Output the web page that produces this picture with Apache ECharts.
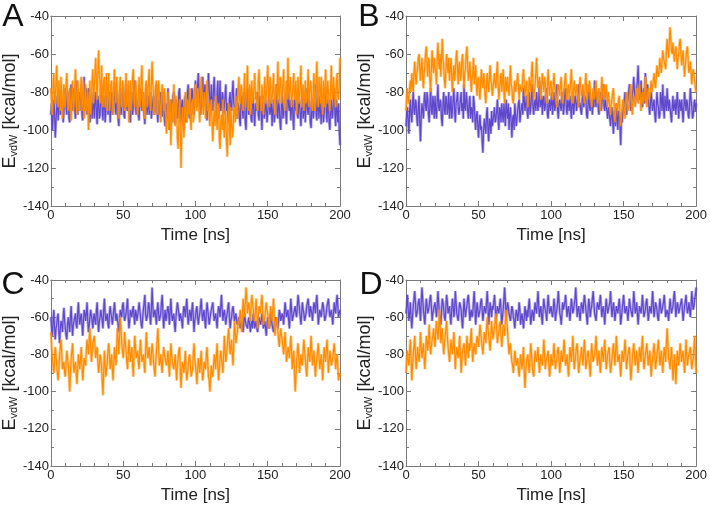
<!DOCTYPE html>
<html>
<head>
<meta charset="utf-8">
<script src="https://cdn.jsdelivr.net/npm/echarts@6/dist/echarts.min.js"></script>
<style>
html,body{margin:0;padding:0;background:#fff;}
#chart{width:710px;height:505px;}
</style>
</head>
<body>
<div id="chart"></div>
<script>
// Sample times in ns: whole-ns samples and half-ns samples
const time = Array.from({length: 201}, (_, i) => i);
const timeHalf = Array.from({length: 200}, (_, i) => i + 0.5);
const panelLabels = ['A', 'B', 'C', 'D'];
const xTicks = [0, 50, 100, 150, 200];
const yTicks = [-140, -120, -100, -80, -60, -40];

// ---------- Panel A ----------
const aPurple = [
-92,-100,-84,-104,-88,-95,-80,-93,-86,-90,
-78,-92,-84,-96,-76,-88,-82,-94,-74,-86,
-90,-80,-95,-72,-86,-92,-78,-96,-84,-88,
-94,-80,-97,-86,-92,-76,-95,-84,-90,-78,
-88,-96,-80,-90,-75,-92,-84,-98,-78,-88,
-82,-94,-76,-90,-86,-96,-80,-88,-74,-92,
-86,-95,-78,-90,-84,-97,-76,-88,-92,-80,
-94,-82,-90,-76,-96,-86,-80,-93,-84,-98,
-88,-78,-100,-84,-94,-80,-97,-86,-92,-78,
-96,-84,-100,-82,-90,-76,-94,-86,-80,-92,
-74,-88,-70,-84,-92,-72,-86,-78,-95,-70,
-84,-76,-90,-72,-86,-80,-94,-74,-88,-82,
-92,-76,-86,-96,-80,-90,-74,-88,-84,-94,
-88,-98,-82,-94,-86,-100,-78,-92,-88,-96,
-84,-98,-90,-80,-95,-86,-100,-82,-92,-88,
-96,-80,-90,-98,-84,-92,-76,-94,-88,-100,
-82,-92,-86,-97,-78,-90,-95,-84,-100,-88,
-80,-94,-86,-98,-82,-90,-96,-78,-92,-86,
-99,-84,-90,-76,-95,-88,-82,-97,-86,-92,
-80,-96,-88,-100,-84,-92,-78,-98,-90,-86,
-108];
const aPurpleHalf = [
-86,-94,-90,-96,-82,-88,-92,-84,-96,-82,
-88,-80,-94,-82,-90,-78,-90,-80,-92,-80,
-84,-92,-80,-90,-78,-84,-92,-88,-94,-80,
-84,-92,-82,-94,-80,-90,-82,-96,-82,-92,
-80,-86,-92,-82,-88,-80,-94,-84,-92,-80,
-92,-80,-88,-82,-94,-84,-92,-78,-86,-84,
-92,-82,-88,-80,-92,-84,-92,-82,-86,-94,
-84,-92,-80,-90,-84,-92,-88,-80,-94,-86,
-94,-90,-86,-96,-82,-92,-84,-94,-80,-90,
-86,-94,-84,-96,-80,-92,-84,-78,-90,-82,
-82,-76,-80,-92,-78,-82,-76,-90,-80,-78,
-90,-86,-78,-84,-92,-74,-84,-90,-80,-92,
-82,-90,-94,-84,-88,-80,-86,-92,-78,-86,
-94,-86,-90,-80,-96,-84,-90,-84,-94,-82,
-92,-86,-84,-92,-82,-92,-86,-94,-84,-96,
-86,-92,-84,-90,-96,-80,-92,-84,-96,-86,
-94,-84,-92,-82,-88,-84,-88,-94,-84,-90,
-92,-84,-92,-86,-94,-84,-86,-90,-82,-96,
-88,-94,-82,-92,-82,-94,-90,-84,-96,-82,
-90,-84,-96,-88,-94,-84,-92,-84,-96,-100];
const aOrange = [
-78,-92,-70,-86,-66,-88,-80,-72,-94,-76,
-84,-70,-90,-78,-95,-74,-86,-68,-92,-80,
-88,-72,-82,-94,-76,-86,-100,-74,-84,-68,
-78,-62,-84,-58,-76,-66,-88,-72,-80,-90,
-70,-84,-74,-92,-68,-86,-80,-94,-72,-88,
-76,-90,-70,-84,-96,-74,-82,-68,-88,-78,
-92,-72,-84,-66,-80,-94,-74,-86,-68,-90,
-64,-82,-88,-74,-92,-80,-96,-76,-90,-84,
-102,-80,-94,-108,-86,-76,-98,-90,-110,-84,
-120,-88,-104,-80,-96,-86,-78,-100,-84,-92,
-76,-90,-82,-96,-72,-88,-80,-94,-74,-86,
-98,-84,-106,-90,-82,-100,-88,-110,-92,-84,
-104,-94,-114,-86,-108,-96,-100,-88,-82,-94,
-72,-86,-78,-90,-70,-84,-66,-82,-92,-74,
-86,-70,-80,-90,-68,-84,-76,-92,-72,-82,
-66,-88,-76,-84,-70,-92,-78,-64,-86,-74,
-82,-68,-90,-74,-62,-84,-78,-88,-70,-80,
-92,-72,-84,-66,-80,-90,-74,-86,-68,-82,
-76,-90,-70,-84,-64,-88,-78,-72,-92,-80,
-68,-86,-74,-90,-66,-82,-78,-88,-70,-84,
-62];
const aOrangeHalf = [
-86,-76,-84,-74,-82,-74,-90,-84,-80,-88,
-76,-84,-80,-88,-82,-90,-76,-84,-74,-90,
-78,-90,-74,-86,-90,-80,-84,-92,-74,-86,
-70,-76,-68,-72,-86,-80,-74,-88,-70,-80,
-90,-76,-86,-78,-82,-72,-88,-78,-86,-74,
-84,-78,-88,-74,-80,-90,-72,-84,-74,-86,
-80,-88,-72,-90,-86,-78,-88,-74,-84,-76,
-76,-92,-80,-86,-74,-88,-84,-82,-78,-94,
-90,-100,-84,-92,-96,-88,-82,-104,-96,-98,
-100,-96,-90,-92,-84,-92,-94,-86,-96,-80,
-86,-78,-90,-80,-84,-92,-86,-80,-90,-92,
-88,-96,-94,-98,-94,-86,-104,-96,-100,-98,
-90,-106,-96,-100,-88,-104,-90,-96,-90,-80,
-84,-76,-86,-80,-88,-76,-90,-76,-80,-86,
-78,-84,-88,-74,-82,-90,-84,-80,-86,-76,
-80,-72,-86,-78,-88,-76,-84,-80,-72,-86,
-76,-86,-78,-84,-80,-72,-88,-76,-84,-74,
-80,-86,-74,-88,-76,-82,-86,-78,-88,-74,
-86,-78,-90,-74,-82,-72,-86,-84,-74,-88,
-80,-74,-86,-78,-84,-72,-86,-76,-82,-76];

// ---------- Panel B ----------
const bPurple = [
-98,-88,-102,-84,-96,-80,-92,-86,-98,-82,
-106,-86,-94,-80,-90,-84,-96,-78,-92,-86,
-82,-94,-76,-90,-86,-98,-80,-92,-84,-88,
-94,-82,-90,-78,-96,-84,-88,-92,-80,-86,
-76,-90,-84,-94,-82,-88,-96,-86,-100,-90,
-104,-92,-98,-112,-94,-102,-88,-106,-96,-90,
-98,-88,-94,-84,-100,-90,-86,-96,-92,-84,
-94,-100,-88,-104,-92,-86,-98,-90,-84,-92,
-86,-78,-90,-82,-94,-80,-88,-76,-92,-84,
-80,-90,-74,-86,-92,-82,-88,-78,-94,-84,
-86,-92,-80,-88,-76,-94,-84,-90,-82,-88,
-78,-92,-86,-82,-94,-80,-88,-84,-90,-76,
-86,-92,-80,-88,-84,-94,-78,-90,-86,-82,
-74,-88,-82,-92,-80,-86,-76,-90,-84,-94,
-90,-98,-88,-102,-94,-86,-100,-92,-108,-96,
-88,-80,-92,-84,-76,-90,-82,-72,-86,-78,
-66,-84,-74,-88,-78,-70,-86,-82,-92,-80,
-90,-84,-96,-80,-88,-92,-84,-76,-94,-86,
-78,-90,-84,-96,-82,-88,-92,-80,-94,-86,
-84,-96,-80,-90,-86,-94,-78,-88,-92,-84,
-86];
const bPurpleHalf = [
-92,-96,-90,-92,-86,-90,-84,-94,-88,-96,
-92,-90,-84,-88,-80,-92,-86,-90,-82,-94,
-90,-84,-88,-84,-94,-86,-90,-82,-92,-80,
-88,-94,-84,-90,-86,-80,-92,-84,-90,-94,
-88,-80,-90,-86,-94,-90,-82,-94,-92,-98,
-96,-100,-106,-100,-98,-92,-100,-94,-102,-98,
-92,-96,-90,-94,-88,-96,-92,-86,-98,-90,
-86,-92,-96,-94,-100,-92,-94,-86,-96,-88,
-92,-84,-86,-90,-86,-92,-82,-88,-86,-90,
-86,-84,-88,-82,-84,-90,-80,-92,-86,-90,
-80,-86,-90,-82,-90,-86,-88,-80,-92,-80,
-88,-84,-90,-88,-86,-92,-82,-90,-82,-88,
-90,-84,-88,-82,-92,-86,-88,-84,-92,-88,
-84,-80,-88,-84,-90,-82,-88,-84,-90,-88,
-94,-92,-96,-90,-98,-94,-90,-98,-94,-90,
-84,-88,-86,-80,-84,-86,-78,-80,-82,-74,
-78,-80,-82,-80,-86,-78,-76,-88,-86,-86,
-86,-92,-88,-86,-94,-80,-90,-88,-82,-90,
-86,-84,-92,-88,-90,-84,-86,-88,-84,-90,
-90,-88,-86,-84,-92,-86,-84,-94,-86,-90];
const bOrange = [
-90,-78,-84,-74,-70,-80,-64,-76,-68,-60,
-74,-62,-78,-66,-56,-72,-64,-80,-58,-70,
-62,-76,-54,-68,-72,-52,-66,-78,-60,-70,
-74,-62,-80,-66,-70,-58,-76,-64,-72,-60,
-78,-68,-56,-74,-64,-80,-70,-76,-66,-82,
-72,-84,-68,-78,-74,-86,-70,-80,-66,-76,
-82,-70,-78,-64,-84,-74,-80,-68,-86,-76,
-72,-82,-66,-78,-86,-74,-80,-70,-84,-76,
-78,-68,-82,-74,-88,-72,-80,-64,-84,-76,
-62,-78,-72,-84,-70,-80,-76,-86,-68,-82,
-74,-84,-70,-80,-88,-76,-82,-72,-86,-78,
-70,-84,-76,-80,-68,-86,-74,-82,-78,-88,
-72,-82,-76,-86,-70,-84,-80,-74,-88,-78,
-82,-74,-86,-78,-90,-72,-84,-80,-76,-88,
-80,-92,-84,-78,-96,-86,-90,-82,-98,-88,
-84,-94,-80,-90,-86,-76,-92,-82,-88,-78,
-86,-76,-90,-80,-84,-72,-88,-78,-82,-74,
-80,-70,-78,-66,-72,-62,-70,-58,-64,-68,
-52,-62,-46,-58,-54,-64,-56,-68,-60,-52,
-66,-58,-72,-62,-56,-70,-64,-76,-68,-74,
-80];
const bOrangeHalf = [
-82,-86,-78,-80,-76,-70,-72,-70,-62,-68,
-66,-72,-70,-60,-66,-62,-74,-68,-66,-62,
-70,-62,-64,-60,-62,-62,-74,-68,-66,-62,
-68,-72,-70,-74,-62,-68,-66,-74,-64,-70,
-70,-60,-66,-70,-72,-74,-62,-72,-76,-74,
-80,-74,-76,-70,-82,-76,-76,-72,-74,-82,
-74,-76,-70,-76,-78,-70,-74,-80,-72,-80,
-78,-74,-76,-84,-78,-80,-74,-78,-76,-80,
-72,-76,-78,-82,-80,-76,-70,-76,-80,-70,
-72,-76,-80,-76,-76,-72,-82,-76,-78,-76,
-80,-76,-78,-84,-80,-78,-76,-82,-80,-74,
-80,-78,-84,-74,-80,-78,-80,-76,-84,-78,
-78,-80,-82,-76,-80,-76,-74,-84,-82,-84,
-78,-82,-80,-84,-80,-80,-76,-84,-82,-80,
-88,-86,-80,-88,-90,-86,-84,-92,-92,-84,
-90,-86,-84,-88,-80,-86,-86,-84,-82,-84,
-80,-84,-84,-86,-78,-82,-82,-84,-78,-80,
-74,-76,-72,-70,-68,-66,-64,-62,-66,-58,
-58,-54,-52,-60,-60,-58,-62,-62,-54,-60,
-62,-66,-66,-58,-64,-68,-70,-70,-72,-78];

// ---------- Panel C ----------
const cPurple = [
-60,-70,-56,-72,-64,-58,-74,-62,-68,-55,
-66,-72,-60,-68,-54,-70,-62,-58,-66,-52,
-64,-58,-70,-56,-62,-52,-68,-60,-56,-66,
-58,-64,-52,-68,-60,-56,-66,-50,-62,-58,
-66,-54,-60,-64,-52,-62,-58,-68,-56,-60,
-52,-62,-58,-50,-66,-56,-60,-54,-64,-58,
-62,-52,-60,-66,-56,-48,-62,-58,-54,-64,
-44,-60,-56,-64,-52,-62,-58,-48,-66,-56,
-60,-54,-64,-50,-62,-58,-68,-56,-52,-62,
-58,-66,-54,-60,-50,-64,-56,-62,-52,-68,
-60,-54,-64,-58,-50,-62,-56,-66,-52,-60,
-64,-56,-52,-62,-58,-66,-54,-60,-48,-62,
-56,-64,-58,-52,-66,-60,-54,-62,-58,-64,
-60,-66,-62,-68,-58,-64,-66,-60,-68,-62,
-58,-66,-62,-68,-60,-64,-58,-66,-62,-70,
-60,-66,-58,-64,-68,-62,-60,-66,-56,-62,
-58,-64,-52,-60,-56,-66,-50,-62,-58,-54,
-60,-48,-56,-64,-52,-58,-62,-54,-50,-60,
-56,-62,-52,-58,-48,-64,-56,-60,-52,-58,
-62,-54,-50,-60,-56,-64,-52,-58,-48,-60,
-56];
const cPurpleHalf = [
-66,-62,-66,-66,-60,-68,-66,-64,-60,-62,
-70,-64,-64,-60,-64,-64,-60,-64,-58,-60,
-60,-64,-62,-58,-58,-62,-64,-56,-62,-60,
-62,-56,-62,-62,-56,-62,-56,-58,-62,-64,
-58,-58,-64,-56,-58,-58,-64,-62,-56,-54,
-58,-60,-54,-60,-62,-58,-56,-60,-56,-62,
-56,-56,-64,-60,-52,-58,-60,-52,-60,-56,
-54,-58,-60,-56,-58,-60,-52,-58,-60,-62,
-56,-58,-56,-58,-60,-64,-60,-52,-58,-58,
-62,-58,-56,-54,-58,-60,-58,-56,-60,-62,
-56,-60,-60,-54,-58,-58,-62,-58,-56,-64,
-58,-54,-58,-60,-62,-58,-56,-54,-56,-58,
-60,-60,-54,-60,-62,-56,-58,-60,-62,-62,
-62,-64,-66,-62,-62,-64,-62,-64,-64,-66,
-62,-64,-66,-64,-62,-62,-62,-64,-66,-64,
-62,-64,-60,-66,-64,-60,-64,-62,-58,-60,
-60,-58,-56,-58,-62,-58,-56,-60,-56,-58,
-54,-52,-60,-58,-56,-62,-58,-52,-56,-54,
-58,-56,-54,-52,-56,-60,-58,-56,-54,-62,
-58,-52,-56,-58,-60,-58,-56,-52,-54,-58];
const cOrange = [
-68,-82,-90,-76,-86,-94,-80,-72,-88,-84,
-92,-78,-86,-100,-82,-74,-90,-84,-96,-80,
-88,-76,-94,-82,-86,-72,-80,-66,-84,-74,
-70,-82,-76,-90,-80,-86,-102,-78,-92,-84,
-74,-88,-80,-94,-76,-86,-66,-80,-60,-74,
-82,-68,-78,-88,-72,-84,-76,-92,-70,-82,
-78,-88,-72,-84,-80,-90,-68,-82,-76,-86,
-74,-84,-92,-78,-66,-86,-80,-90,-76,-82,
-86,-78,-92,-74,-84,-88,-80,-94,-82,-76,
-98,-84,-90,-78,-94,-86,-80,-92,-88,-74,
-86,-96,-82,-90,-78,-94,-84,-88,-76,-92,
-100,-86,-92,-80,-88,-74,-94,-82,-78,-90,
-70,-84,-76,-66,-80,-72,-86,-62,-74,-68,
-64,-56,-68,-50,-60,-44,-58,-52,-62,-48,
-56,-62,-50,-66,-54,-58,-48,-64,-60,-52,
-58,-66,-54,-62,-50,-70,-60,-68,-76,-66,
-72,-80,-68,-84,-76,-82,-70,-88,-78,-100,
-84,-74,-90,-80,-86,-72,-82,-92,-76,-84,
-70,-86,-78,-92,-82,-74,-88,-80,-94,-76,
-84,-72,-90,-78,-86,-82,-74,-88,-80,-94,
-92];
const cOrangeHalf = [
-76,-86,-84,-80,-90,-88,-76,-80,-86,-90,
-84,-82,-92,-90,-78,-84,-86,-90,-88,-84,
-82,-86,-88,-84,-78,-76,-72,-76,-80,-72,
-76,-78,-84,-86,-82,-94,-90,-86,-88,-78,
-80,-84,-88,-84,-82,-76,-72,-70,-66,-78,
-76,-74,-84,-80,-78,-80,-86,-80,-76,-80,
-84,-78,-80,-82,-86,-78,-76,-80,-82,-80,
-78,-88,-84,-72,-76,-84,-86,-82,-80,-84,
-82,-86,-82,-80,-86,-84,-88,-86,-78,-88,
-90,-86,-84,-88,-90,-82,-86,-90,-80,-82,
-90,-88,-86,-84,-88,-90,-86,-80,-84,-94,
-92,-90,-86,-84,-80,-86,-88,-78,-86,-80,
-78,-80,-70,-74,-76,-80,-74,-68,-70,-62,
-60,-62,-58,-56,-52,-50,-54,-58,-54,-52,
-60,-56,-58,-60,-56,-52,-56,-62,-56,-56,
-62,-60,-58,-56,-60,-64,-62,-72,-70,-70,
-76,-74,-76,-80,-78,-76,-78,-82,-90,-92,
-78,-82,-84,-84,-78,-78,-88,-84,-80,-78,
-78,-82,-86,-86,-78,-82,-84,-86,-84,-80,
-78,-80,-84,-82,-84,-78,-80,-84,-86,-90];

// ---------- Panel D ----------
const dPurple = [
-58,-48,-62,-52,-66,-54,-46,-60,-56,-50,
-62,-44,-56,-64,-50,-58,-54,-48,-62,-56,
-52,-60,-46,-58,-64,-50,-56,-62,-48,-58,
-54,-64,-50,-60,-46,-58,-62,-52,-56,-66,
-50,-60,-54,-48,-62,-56,-58,-46,-64,-52,
-60,-56,-50,-62,-54,-58,-46,-64,-52,-60,
-56,-48,-62,-54,-58,-50,-64,-56,-44,-60,
-52,-58,-62,-54,-60,-66,-56,-62,-52,-64,
-58,-66,-54,-62,-60,-50,-64,-56,-62,-52,
-58,-46,-60,-54,-64,-50,-56,-62,-48,-58,
-54,-60,-50,-62,-56,-46,-58,-64,-52,-56,
-48,-60,-54,-62,-50,-58,-56,-44,-60,-54,
-62,-52,-58,-48,-56,-64,-50,-60,-54,-46,
-58,-62,-52,-56,-48,-60,-54,-64,-50,-58,
-56,-46,-60,-52,-62,-54,-58,-50,-64,-56,
-48,-58,-54,-62,-50,-56,-60,-46,-58,-52,
-64,-54,-58,-48,-60,-56,-50,-62,-54,-58,
-46,-60,-52,-56,-62,-50,-58,-54,-48,-60,
-56,-62,-50,-58,-54,-46,-60,-52,-58,-56,
-50,-62,-54,-48,-58,-52,-60,-46,-56,-50,
-44];
const dPurpleHalf = [
-54,-56,-58,-60,-60,-50,-52,-58,-52,-56,
-52,-50,-60,-56,-54,-56,-50,-54,-58,-54,
-56,-54,-52,-60,-56,-52,-60,-54,-52,-56,
-60,-56,-54,-56,-52,-60,-56,-54,-62,-58,
-56,-56,-50,-54,-58,-60,-52,-54,-58,-56,
-58,-52,-56,-58,-56,-52,-54,-58,-56,-54,
-52,-54,-58,-56,-54,-56,-60,-50,-52,-56,
-54,-60,-58,-56,-62,-60,-58,-58,-56,-60,
-62,-60,-58,-56,-54,-58,-60,-58,-56,-56,
-52,-54,-56,-60,-56,-54,-58,-54,-54,-56,
-58,-56,-54,-58,-52,-52,-60,-58,-56,-52,
-54,-56,-58,-56,-54,-56,-50,-52,-56,-58,
-56,-54,-52,-52,-60,-56,-54,-56,-50,-52,
-60,-56,-54,-52,-54,-56,-58,-56,-54,-56,
-52,-54,-56,-56,-58,-56,-54,-56,-60,-52,
-54,-56,-58,-56,-54,-58,-54,-52,-56,-58,
-58,-56,-54,-54,-58,-52,-56,-58,-56,-52,
-54,-56,-54,-60,-56,-54,-56,-52,-54,-58,
-58,-56,-54,-56,-50,-52,-56,-54,-56,-52,
-56,-58,-52,-54,-56,-56,-54,-52,-54,-48];
const dOrange = [
-90,-78,-86,-72,-94,-80,-70,-88,-76,-84,
-68,-82,-74,-88,-70,-78,-64,-80,-72,-66,
-76,-62,-72,-56,-74,-66,-80,-70,-62,-76,
-84,-72,-80,-68,-88,-76,-82,-70,-90,-78,
-74,-86,-70,-82,-78,-66,-84,-74,-80,-70,
-76,-64,-72,-80,-68,-74,-60,-70,-78,-62,
-72,-66,-58,-74,-68,-62,-76,-64,-70,-56,
-68,-80,-74,-84,-90,-78,-86,-82,-92,-80,
-88,-76,-98,-84,-80,-90,-74,-86,-92,-78,
-84,-76,-90,-80,-86,-72,-88,-82,-78,-92,
-80,-86,-74,-88,-82,-76,-90,-78,-84,-72,
-86,-80,-92,-76,-84,-70,-88,-80,-74,-90,
-82,-76,-86,-72,-88,-80,-78,-92,-74,-84,
-80,-70,-86,-78,-90,-76,-84,-72,-88,-80,
-76,-90,-82,-74,-86,-70,-84,-80,-92,-78,
-84,-72,-88,-80,-76,-94,-82,-74,-86,-78,
-90,-76,-84,-70,-88,-80,-74,-86,-78,-92,
-82,-74,-88,-80,-72,-86,-78,-90,-76,-84,
-66,-82,-88,-76,-94,-80,-96,-78,-86,-74,
-84,-78,-90,-72,-86,-80,-76,-88,-82,-70,
-90];
const dOrangeHalf = [
-82,-84,-78,-82,-86,-76,-80,-82,-80,-78,
-76,-78,-82,-80,-74,-72,-74,-76,-70,-72,
-68,-68,-66,-64,-70,-74,-74,-66,-70,-80,
-78,-76,-74,-78,-80,-80,-76,-80,-84,-76,
-80,-78,-76,-74,-72,-76,-78,-78,-74,-72,
-70,-68,-76,-74,-70,-66,-66,-74,-70,-68,
-68,-62,-66,-70,-64,-70,-70,-66,-62,-62,
-74,-76,-80,-86,-84,-82,-84,-88,-86,-84,
-82,-90,-90,-82,-86,-82,-80,-90,-84,-82,
-80,-84,-84,-84,-80,-80,-84,-80,-86,-86,
-84,-80,-82,-84,-78,-84,-84,-82,-78,-80,
-84,-86,-84,-80,-78,-80,-84,-76,-82,-86,
-80,-82,-78,-80,-84,-78,-86,-82,-80,-82,
-76,-80,-82,-84,-82,-80,-78,-80,-84,-78,
-84,-86,-78,-80,-78,-78,-82,-86,-84,-82,
-78,-80,-84,-78,-86,-88,-78,-80,-82,-84,
-82,-80,-76,-80,-84,-78,-80,-82,-84,-86,
-78,-82,-84,-76,-80,-82,-84,-82,-80,-74,
-74,-84,-82,-84,-88,-86,-86,-82,-80,-80,
-80,-84,-82,-80,-82,-78,-82,-84,-76,-82];

const purpleSeries = [[aPurple, aPurpleHalf], [bPurple, bPurpleHalf], [cPurple, cPurpleHalf], [dPurple, dPurpleHalf]];
const orangeSeries = [[aOrange, aOrangeHalf], [bOrange, bOrangeHalf], [cOrange, cOrangeHalf], [dOrange, dOrangeHalf]];

// Merge whole-ns and half-ns samples into one time-ordered [t, v] list
function merge(pair) {
  const [whole, half] = pair;
  const out = [];
  for (let k = 0; k < time.length; k++) {
    if (whole[k] !== undefined) out.push([time[k], whole[k]]);
    if (k < timeHalf.length && half[k] !== undefined) out.push([timeHalf[k], half[k]]);
  }
  return out;
}

const PURPLE = '#6048cc';
const ORANGE = '#ff8c00';
const AXIS = '#7a7a7a';
const FONT = 'Liberation Sans, Arial, sans-serif';

const grids = [
  {left: 49, top: 16, width: 291, height: 190},
  {left: 406, top: 16, width: 291, height: 190},
  {left: 49, top: 280, width: 291, height: 190},
  {left: 406, top: 280, width: 291, height: 190}
];
const letterPos = [[13, 17], [369, 17], [13, 285], [371, 285]];

function traceSeries(i, data, color, z) {
  return [
    { // soft halo: the dense band of the trajectory
      type: 'line', xAxisIndex: 2 * i, yAxisIndex: 2 * i, data,
      showSymbol: false, symbol: 'none', silent: true,
      lineStyle: {color, width: 2.8, opacity: 0.45, join: 'bevel'}, z
    },
    { // core trace
      type: 'line', xAxisIndex: 2 * i, yAxisIndex: 2 * i, data,
      showSymbol: false, symbol: 'none', silent: true,
      lineStyle: {color, width: 1.2, join: 'bevel'}, z: z + 1
    }
  ];
}

const xAxes = [], yAxes = [], series = [], graphics = [];
grids.forEach((g, i) => {
  const lineStyle = {color: AXIS, width: 1};
  const base = {
    gridIndex: i, type: 'value', min: 0, max: 200, interval: 50,
    axisLine: {show: true, onZero: false, lineStyle},
    axisTick: {show: true, inside: true, length: 5, lineStyle},
    minorTick: {show: true, splitNumber: 5, length: 3, lineStyle},
    splitLine: {show: false}, minorSplitLine: {show: false}
  };
  xAxes.push(Object.assign({}, base, {
    position: 'bottom',
    axisLabel: {show: true, color: '#222', fontSize: 13, fontFamily: FONT, margin: 3,
      formatter: v => xTicks.includes(v) ? String(v) : ''},
    name: 'Time [ns]', nameLocation: 'middle', nameGap: 21,
    nameTextStyle: {color: '#222', fontSize: 17, fontFamily: FONT}
  }));
  xAxes.push(Object.assign({}, base, {position: 'top', axisLabel: {show: false}}));
  const ybase = {
    gridIndex: i, type: 'value', min: -140, max: -40, interval: 20,
    axisLine: {show: true, onZero: false, lineStyle},
    axisTick: {show: true, inside: true, length: 5, lineStyle},
    minorTick: {show: true, splitNumber: 2, length: 3, lineStyle},
    splitLine: {show: false}, minorSplitLine: {show: false}
  };
  yAxes.push(Object.assign({}, ybase, {
    position: 'left',
    axisLabel: {show: true, color: '#222', fontSize: 13, fontFamily: FONT, margin: 2,
      formatter: v => yTicks.includes(v) ? String(v) : ''},
    name: '{e|E}{s|vdW}{e| [kcal/mol]}', nameLocation: 'middle', nameGap: 27, nameRotate: 90,
    nameTextStyle: {
      color: '#222', fontFamily: FONT,
      rich: {
        e: {fontSize: 18, fontFamily: FONT, color: '#222'},
        s: {fontSize: 11, fontFamily: FONT, color: '#222', padding: [7, 0, 0, 0]}
      }
    }
  }));
  yAxes.push(Object.assign({}, ybase, {position: 'right', axisLabel: {show: false}}));

  series.push(...traceSeries(i, merge(purpleSeries[i]), PURPLE, 2));
  series.push(...traceSeries(i, merge(orangeSeries[i]), ORANGE, 4));

  graphics.push({
    type: 'text', x: letterPos[i][0], y: letterPos[i][1],
    style: {text: panelLabels[i], fill: '#111', font: '32px ' + FONT,
      textAlign: 'center', textVerticalAlign: 'middle'}
  });
});

const chart = echarts.init(document.getElementById('chart'), null, {renderer: 'canvas'});
chart.setOption({
  animation: false,
  backgroundColor: '#fff',
  grid: grids,
  xAxis: xAxes,
  yAxis: yAxes,
  series: series,
  graphic: graphics
});
</script>
</body>
</html>
